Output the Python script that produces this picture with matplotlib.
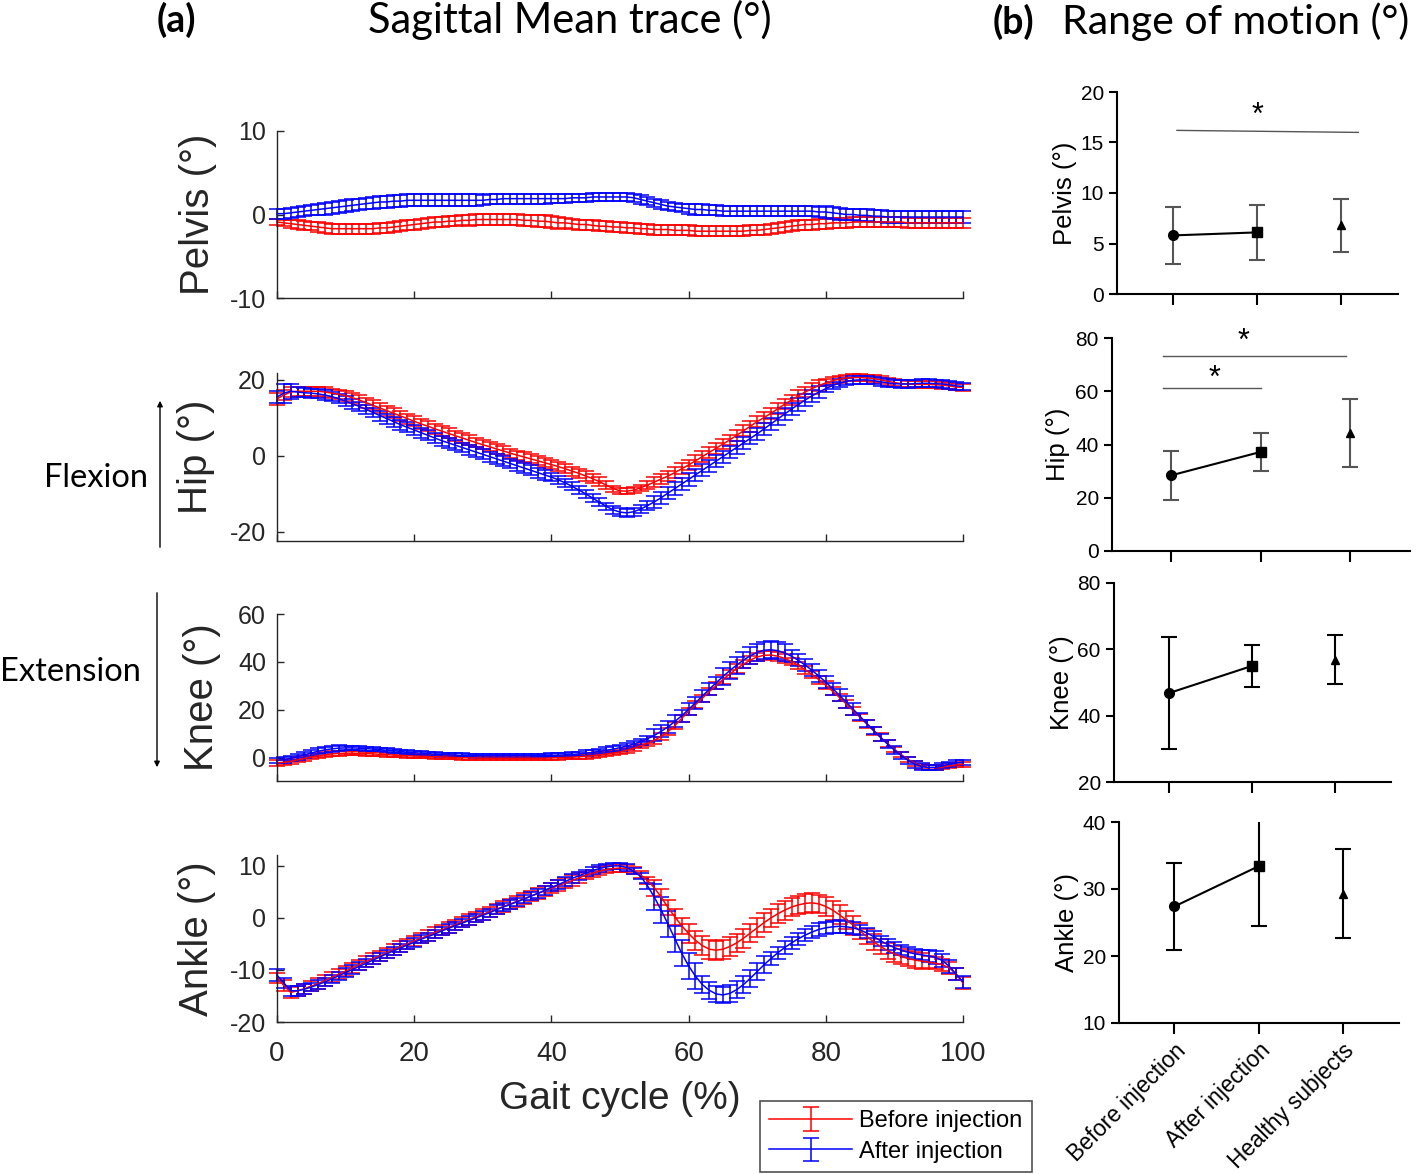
import matplotlib
matplotlib.use('Agg')
import matplotlib.pyplot as plt
from matplotlib.patches import FancyArrowPatch
import numpy as np

plt.rcParams['font.family'] = ['Liberation Sans', 'DejaVu Sans']
plt.rcParams['axes.unicode_minus'] = False

# gait cycle 0..100 %
gait = np.arange(101)

# pelvis, mean and sd (before = red, after = blue)
pelvis_before = [-0.9, -1.0, -1.1, -1.2, -1.3, -1.4, -1.5, -1.6, -1.7, -1.7,
                 -1.7, -1.7, -1.7, -1.7, -1.7, -1.6, -1.6, -1.5, -1.4, -1.3,
                 -1.2, -1.1, -1.0, -0.9, -0.9, -0.8, -0.8, -0.7, -0.7, -0.6,
                 -0.6, -0.6, -0.6, -0.6, -0.6, -0.6, -0.7, -0.7, -0.8, -0.8,
                 -0.9, -1.0, -1.0, -1.1, -1.2, -1.2, -1.3, -1.4, -1.4, -1.5,
                 -1.5, -1.6, -1.6, -1.7, -1.7, -1.8, -1.8, -1.8, -1.9, -1.9,
                 -1.9, -2.0, -2.0, -2.0, -2.0, -2.0, -2.0, -2.0, -2.0, -1.9,
                 -1.9, -1.8, -1.7, -1.6, -1.5, -1.4, -1.3, -1.2, -1.2, -1.1,
                 -1.1, -1.0, -1.0, -1.0, -0.9, -0.9, -0.9, -0.9, -0.9, -0.9,
                 -0.9, -0.9, -1.0, -1.0, -1.0, -1.0, -1.0, -1.0, -1.0, -1.0,
                 -1.0]
pelvis_before_sd = [0.4, 0.4, 0.5, 0.5, 0.5, 0.5, 0.6, 0.6, 0.6, 0.6,
                    0.6, 0.6, 0.6, 0.6, 0.6, 0.6, 0.6, 0.6, 0.6, 0.6,
                    0.6, 0.6, 0.6, 0.6, 0.6, 0.6, 0.6, 0.6, 0.7, 0.7,
                    0.7, 0.7, 0.7, 0.7, 0.7, 0.7, 0.7, 0.7, 0.7, 0.7,
                    0.7, 0.7, 0.6, 0.6, 0.6, 0.6, 0.6, 0.6, 0.6, 0.6,
                    0.6, 0.6, 0.6, 0.6, 0.6, 0.6, 0.6, 0.6, 0.6, 0.6,
                    0.6, 0.6, 0.6, 0.6, 0.6, 0.6, 0.6, 0.6, 0.6, 0.6,
                    0.6, 0.6, 0.6, 0.6, 0.6, 0.6, 0.6, 0.6, 0.6, 0.6,
                    0.6, 0.6, 0.6, 0.6, 0.6, 0.6, 0.6, 0.6, 0.6, 0.6,
                    0.6, 0.6, 0.6, 0.6, 0.6, 0.6, 0.6, 0.6, 0.6, 0.6,
                    0.6]
pelvis_after = [0.1, 0.1, 0.2, 0.3, 0.4, 0.5, 0.6, 0.7, 0.8, 0.9,
                1.0, 1.1, 1.2, 1.3, 1.4, 1.5, 1.5, 1.6, 1.6, 1.7,
                1.7, 1.7, 1.7, 1.7, 1.7, 1.7, 1.7, 1.7, 1.7, 1.7,
                1.7, 1.8, 1.8, 1.9, 1.9, 1.9, 1.9, 1.9, 1.9, 1.9,
                1.9, 1.9, 1.9, 2.0, 2.0, 2.0, 2.1, 2.1, 2.1, 2.1,
                2.1, 2.1, 2.0, 1.8, 1.6, 1.4, 1.2, 1.0, 0.9, 0.8,
                0.7, 0.6, 0.6, 0.5, 0.5, 0.4, 0.4, 0.4, 0.4, 0.4,
                0.4, 0.4, 0.4, 0.4, 0.4, 0.4, 0.4, 0.4, 0.4, 0.3,
                0.3, 0.2, 0.1, 0.0, 0.0, -0.1, -0.1, -0.2, -0.2, -0.3,
                -0.3, -0.3, -0.3, -0.3, -0.3, -0.3, -0.3, -0.3, -0.3, -0.3,
                -0.3]
pelvis_after_sd = [0.6, 0.6, 0.6, 0.6, 0.6, 0.6, 0.7, 0.7, 0.7, 0.7,
                   0.7, 0.7, 0.7, 0.7, 0.7, 0.7, 0.7, 0.7, 0.7, 0.7,
                   0.7, 0.7, 0.7, 0.7, 0.7, 0.7, 0.7, 0.7, 0.7, 0.7,
                   0.6, 0.6, 0.6, 0.6, 0.6, 0.6, 0.6, 0.6, 0.6, 0.6,
                   0.5, 0.5, 0.5, 0.5, 0.5, 0.5, 0.5, 0.5, 0.5, 0.5,
                   0.5, 0.5, 0.5, 0.5, 0.5, 0.5, 0.5, 0.5, 0.5, 0.5,
                   0.6, 0.6, 0.6, 0.6, 0.6, 0.6, 0.6, 0.6, 0.6, 0.6,
                   0.6, 0.6, 0.6, 0.6, 0.6, 0.6, 0.6, 0.6, 0.6, 0.6,
                   0.7, 0.7, 0.7, 0.7, 0.7, 0.7, 0.7, 0.7, 0.7, 0.7,
                   0.7, 0.7, 0.7, 0.7, 0.7, 0.7, 0.7, 0.7, 0.7, 0.7,
                   0.7]

# hip
hip_before = [15.0, 16.0, 16.8, 17.0, 17.0, 17.0, 17.0, 16.8, 16.5, 16.2,
              15.8, 15.3, 14.7, 14.0, 13.3, 12.6, 11.9, 11.2, 10.5, 9.8,
              9.1, 8.4, 7.8, 7.1, 6.5, 5.9, 5.3, 4.7, 4.1, 3.5,
              2.9, 2.4, 1.8, 1.3, 0.7, 0.2, -0.3, -0.8, -1.3, -1.8,
              -2.3, -2.8, -3.4, -4.0, -4.6, -5.3, -6.0, -6.8, -7.7, -8.6,
              -9.2, -9.3, -9.0, -8.4, -7.7, -6.9, -6.1, -5.3, -4.4, -3.4,
              -2.4, -1.3, -0.2, 0.9, 2.0, 3.1, 4.2, 5.4, 6.6, 7.8,
              9.0, 10.1, 11.2, 12.4, 13.6, 14.7, 15.8, 16.8, 17.7, 18.5,
              19.2, 19.8, 20.2, 20.5, 20.6, 20.6, 20.5, 20.3, 20.0, 19.6,
              19.3, 19.0, 18.9, 18.8, 18.8, 18.8, 18.7, 18.6, 18.4, 18.1,
              18.0]
hip_before_sd = [1.5, 1.2, 1.2, 1.2, 1.2, 1.2, 1.2, 1.2, 1.2, 1.2,
                 1.3, 1.3, 1.3, 1.3, 1.3, 1.3, 1.3, 1.3, 1.3, 1.3,
                 1.3, 1.3, 1.3, 1.3, 1.3, 1.3, 1.3, 1.3, 1.3, 1.3,
                 1.2, 1.2, 1.2, 1.2, 1.2, 1.2, 1.2, 1.2, 1.2, 1.2,
                 1.2, 1.2, 1.2, 1.2, 1.2, 1.2, 1.2, 1.2, 1.0, 0.8,
                 0.8, 0.8, 0.8, 0.8, 1.0, 1.4, 1.4, 1.4, 1.4, 1.4,
                 1.4, 1.4, 1.4, 1.4, 1.4, 1.4, 1.4, 1.4, 1.4, 1.4,
                 1.4, 1.4, 1.4, 1.4, 1.4, 1.4, 1.4, 1.4, 1.4, 1.4,
                 0.9, 0.9, 0.9, 0.9, 0.9, 0.9, 0.9, 0.9, 0.9, 0.9,
                 0.9, 0.9, 0.9, 0.9, 0.9, 0.9, 0.9, 0.9, 0.9, 0.9,
                 0.9]
hip_after = [15.5, 16.5, 17.0, 16.8, 16.6, 16.5, 16.3, 16.0, 15.6, 15.0,
             14.4, 13.7, 13.0, 12.2, 11.4, 10.6, 9.8, 9.0, 8.2, 7.5,
             6.8, 6.1, 5.4, 4.7, 4.0, 3.4, 2.8, 2.2, 1.6, 1.0,
             0.4, -0.2, -0.8, -1.4, -2.0, -2.6, -3.2, -3.8, -4.4, -5.0,
             -5.6, -6.3, -7.1, -8.0, -9.0, -10.0, -11.1, -12.2, -13.3, -14.2,
             -14.8, -15.0, -14.7, -14.0, -13.1, -12.1, -11.0, -9.8, -8.6, -7.4,
             -6.2, -5.0, -3.8, -2.6, -1.4, -0.2, 1.0, 2.2, 3.4, 4.6,
             5.8, 7.1, 8.4, 9.7, 11.0, 12.3, 13.5, 14.7, 15.8, 16.8,
             17.7, 18.5, 19.1, 19.6, 19.9, 20.0, 20.0, 19.8, 19.5, 19.2,
             19.0, 18.9, 18.9, 19.0, 19.1, 19.1, 19.0, 18.9, 18.7, 18.4,
             18.3]
hip_after_sd = [1.6, 2.5, 2.0, 1.2, 1.2, 1.2, 1.2, 1.2, 1.2, 1.2,
                1.3, 1.3, 1.3, 1.3, 1.3, 1.3, 1.3, 1.3, 1.3, 1.3,
                1.3, 1.3, 1.3, 1.3, 1.3, 1.3, 1.3, 1.3, 1.3, 1.3,
                1.3, 1.3, 1.3, 1.3, 1.3, 1.3, 1.3, 1.3, 1.3, 1.3,
                1.0, 1.0, 1.0, 1.0, 1.0, 1.0, 1.0, 1.0, 1.0, 1.0,
                1.0, 1.0, 1.0, 1.0, 1.2, 1.6, 1.6, 1.6, 1.6, 1.6,
                1.6, 1.6, 1.6, 1.6, 1.6, 1.6, 1.6, 1.6, 1.6, 1.6,
                1.6, 1.6, 1.6, 1.6, 1.6, 1.6, 1.6, 1.6, 1.6, 1.6,
                1.0, 1.0, 1.0, 1.0, 1.0, 1.0, 1.0, 1.0, 1.0, 1.0,
                1.0, 1.0, 1.0, 1.0, 1.0, 1.0, 1.0, 1.0, 1.0, 1.0,
                1.0]

# knee
knee_before = [-2.0, -1.8, -1.4, -0.8, -0.2, 0.4, 0.9, 1.3, 1.7, 1.9,
               2.0, 2.0, 1.9, 1.8, 1.7, 1.5, 1.4, 1.2, 1.0, 0.9,
               0.8, 0.7, 0.6, 0.5, 0.4, 0.3, 0.2, 0.1, 0.0, 0.0,
               -0.1, -0.1, -0.1, -0.1, -0.1, -0.1, -0.1, -0.1, -0.1, -0.1,
               0.0, 0.1, 0.2, 0.3, 0.5, 0.7, 1.0, 1.3, 1.7, 2.1,
               2.5, 3.2, 4.0, 5.0, 6.1, 7.4, 9.0, 11.0, 13.5, 16.5,
               19.5, 22.2, 24.9, 27.6, 30.2, 32.7, 35.0, 37.2, 39.1, 40.8,
               42.1, 42.8, 42.9, 42.4, 41.5, 40.2, 38.6, 36.8, 34.8, 32.6,
               30.3, 27.8, 25.2, 22.5, 19.7, 16.9, 14.1, 11.3, 8.6, 6.0,
               3.6, 1.4, -0.6, -2.2, -3.4, -4.0, -4.1, -3.8, -3.3, -2.9,
               -2.7]
knee_before_sd = [1.2, 1.0, 1.0, 1.0, 1.0, 1.0, 1.0, 1.0, 1.0, 1.0,
                  0.8, 0.8, 0.8, 0.8, 0.8, 0.8, 0.8, 0.8, 0.8, 0.8,
                  0.8, 0.8, 0.8, 0.8, 0.8, 0.8, 0.8, 0.8, 0.8, 0.8,
                  0.8, 0.8, 0.8, 0.8, 0.8, 0.8, 0.8, 0.8, 0.8, 0.8,
                  0.8, 0.8, 0.8, 0.8, 0.8, 1.0, 1.0, 1.0, 1.0, 1.0,
                  1.0, 1.0, 1.0, 1.0, 1.0, 1.5, 1.5, 1.5, 1.5, 1.5,
                  1.5, 1.5, 1.5, 1.5, 1.5, 1.8, 1.8, 1.8, 1.8, 1.8,
                  1.8, 1.8, 1.8, 1.8, 1.8, 1.6, 1.6, 1.6, 1.6, 1.6,
                  1.6, 1.6, 1.6, 1.6, 1.6, 1.6, 1.6, 1.6, 1.6, 1.6,
                  1.0, 1.0, 1.0, 1.0, 1.0, 1.0, 1.0, 1.0, 1.0, 1.0,
                  1.0]
knee_after = [-1.0, -0.7, -0.2, 0.5, 1.3, 2.1, 2.8, 3.4, 3.8, 4.1,
              4.2, 4.2, 4.1, 3.9, 3.7, 3.5, 3.2, 3.0, 2.7, 2.4,
              2.2, 2.0, 1.8, 1.6, 1.4, 1.3, 1.2, 1.1, 1.0, 0.9,
              0.9, 0.9, 0.9, 0.9, 0.9, 0.9, 0.9, 0.9, 1.0, 1.0,
              1.1, 1.2, 1.3, 1.5, 1.7, 2.0, 2.3, 2.7, 3.2, 3.7,
              4.3, 5.0, 5.8, 6.8, 8.0, 9.4, 11.1, 13.0, 15.2, 17.6,
              20.2, 23.0, 25.8, 28.6, 31.3, 33.9, 36.4, 38.7, 40.8, 42.6,
              44.0, 44.9, 45.1, 44.7, 43.8, 42.4, 40.7, 38.7, 36.5, 34.1,
              31.6, 28.9, 26.1, 23.2, 20.3, 17.3, 14.3, 11.4, 8.5, 5.8,
              3.3, 1.0, -1.0, -2.6, -3.6, -4.0, -3.9, -3.3, -2.6, -2.0,
              -1.8]
knee_after_sd = [1.0, 1.2, 1.2, 1.2, 1.2, 1.2, 1.2, 1.2, 1.2, 1.2,
                 0.8, 0.8, 0.8, 0.8, 0.8, 0.8, 0.8, 0.8, 0.8, 0.8,
                 0.8, 0.8, 0.8, 0.8, 0.8, 0.8, 0.8, 0.8, 0.8, 0.8,
                 0.8, 0.8, 0.8, 0.8, 0.8, 0.8, 0.8, 0.8, 0.8, 0.8,
                 0.8, 0.8, 0.8, 0.8, 0.8, 1.2, 1.2, 1.2, 1.2, 1.2,
                 1.2, 1.2, 1.2, 1.2, 1.2, 2.5, 2.5, 2.5, 2.5, 2.5,
                 2.5, 2.5, 2.5, 2.5, 2.5, 3.5, 3.5, 3.5, 3.5, 3.5,
                 3.5, 3.5, 3.5, 3.5, 3.5, 2.5, 2.5, 2.5, 2.5, 2.5,
                 2.5, 2.5, 2.5, 2.5, 2.5, 1.5, 1.5, 1.5, 1.5, 1.5,
                 1.5, 1.5, 1.5, 1.5, 1.5, 1.0, 1.0, 1.0, 1.0, 1.0,
                 1.0]

# ankle
ankle_before = [-11.5, -13.0, -14.3, -14.0, -13.6, -13.1, -12.6, -12.0, -11.4, -10.8,
                -10.2, -9.6, -9.0, -8.4, -7.8, -7.3, -6.7, -6.1, -5.5, -5.0,
                -4.4, -3.9, -3.4, -2.8, -2.3, -1.8, -1.3, -0.8, -0.3, 0.2,
                0.7, 1.2, 1.7, 2.2, 2.7, 3.2, 3.7, 4.2, 4.7, 5.2,
                5.7, 6.2, 6.7, 7.2, 7.7, 8.2, 8.6, 9.0, 9.3, 9.5,
                9.6, 9.5, 9.1, 8.3, 7.2, 5.8, 4.0, 2.0, 0.2, -1.5,
                -3.0, -4.3, -5.3, -6.0, -6.2, -6.0, -5.5, -4.8, -3.9, -2.9,
                -1.9, -0.9, 0.0, 0.8, 1.5, 2.1, 2.5, 2.8, 2.9, 2.7,
                2.2, 1.5, 0.6, -0.4, -1.4, -2.5, -3.6, -4.6, -5.5, -6.3,
                -6.9, -7.4, -7.8, -8.1, -8.3, -8.5, -8.7, -9.0, -9.6, -10.8,
                -12.5]
ankle_before_sd = [1.0, 1.0, 1.0, 1.0, 1.0, 1.0, 1.0, 1.0, 1.0, 1.0,
                   1.0, 1.0, 1.0, 1.0, 1.0, 1.0, 1.0, 1.0, 1.0, 1.0,
                   1.0, 1.0, 1.0, 1.0, 1.0, 1.0, 1.0, 1.0, 1.0, 1.0,
                   1.0, 1.0, 1.0, 1.0, 1.0, 1.0, 1.0, 1.0, 1.0, 1.0,
                   1.0, 1.0, 1.0, 1.0, 1.0, 0.7, 0.7, 0.7, 0.7, 0.7,
                   0.7, 0.7, 0.7, 0.7, 0.7, 1.5, 1.5, 1.5, 1.5, 1.5,
                   1.8, 1.8, 1.8, 1.8, 1.8, 1.8, 1.8, 1.8, 1.8, 1.8,
                   1.8, 1.8, 1.8, 1.8, 1.8, 1.8, 1.8, 1.8, 1.8, 1.8,
                   1.8, 1.8, 1.8, 1.8, 1.8, 1.5, 1.5, 1.5, 1.5, 1.5,
                   1.5, 1.5, 1.5, 1.5, 1.5, 1.2, 1.2, 1.2, 1.2, 1.2,
                   1.2]
ankle_after = [-11.0, -12.5, -14.0, -14.0, -13.7, -13.3, -12.8, -12.3, -11.7, -11.1,
               -10.5, -9.9, -9.3, -8.7, -8.1, -7.5, -6.9, -6.3, -5.8, -5.2,
               -4.7, -4.1, -3.6, -3.1, -2.5, -2.0, -1.5, -1.0, -0.5, 0.0,
               0.5, 1.0, 1.6, 2.1, 2.6, 3.1, 3.6, 4.2, 4.7, 5.3,
               5.9, 6.4, 7.0, 7.6, 8.1, 8.6, 9.1, 9.5, 9.8, 10.0,
               10.0, 9.7, 9.0, 8.0, 6.2, 4.0, 1.5, -1.2, -4.0, -6.8,
               -9.2, -11.2, -12.8, -13.9, -14.6, -14.8, -14.5, -13.8, -12.8, -11.6,
               -10.3, -9.0, -7.8, -6.7, -5.7, -4.8, -4.0, -3.3, -2.7, -2.2,
               -1.9, -1.7, -1.6, -1.7, -1.9, -2.3, -2.9, -3.6, -4.4, -5.1,
               -5.7, -6.2, -6.6, -6.9, -7.1, -7.3, -7.6, -8.2, -9.3, -10.8,
               -12.3]
ankle_after_sd = [1.2, 1.0, 1.0, 1.0, 1.0, 0.8, 0.8, 0.8, 0.8, 0.8,
                  0.8, 0.8, 0.8, 0.8, 0.8, 0.8, 0.8, 0.8, 0.8, 0.8,
                  0.8, 0.8, 0.8, 0.8, 0.8, 0.8, 0.8, 0.8, 0.8, 0.8,
                  0.8, 0.8, 0.8, 0.8, 0.8, 0.8, 0.8, 0.8, 0.8, 0.8,
                  0.8, 0.8, 0.8, 0.8, 0.8, 0.6, 0.6, 0.6, 0.6, 0.6,
                  0.6, 0.6, 0.6, 0.6, 0.6, 2.5, 2.5, 2.5, 2.5, 2.5,
                  2.5, 2.5, 1.6, 1.6, 1.6, 1.6, 1.6, 1.6, 1.6, 1.6,
                  1.6, 1.6, 1.2, 1.2, 1.2, 1.2, 1.2, 1.2, 1.2, 1.2,
                  1.2, 1.2, 1.2, 1.2, 1.2, 1.0, 1.0, 1.0, 1.0, 1.0,
                  1.0, 1.0, 1.0, 1.0, 1.0, 1.2, 1.2, 1.2, 1.2, 1.2,
                  1.2]

# range of motion (mean, sd) per group
groups = ['Before injection', 'After injection', 'Healthy subjects']
pelvis_rom = [5.8, 6.1, 6.8]
pelvis_rom_sd = [2.85, 2.7, 2.65]
hip_rom = [28.4, 37.2, 44.3]
hip_rom_sd = [9.3, 7.0, 12.7]
knee_rom = [46.8, 55.0, 56.9]
knee_rom_sd = [17.0, 6.4, 7.3]
ankle_rom = [27.4, 33.4, 29.3]
ankle_rom_sd = [6.5, 8.9, 6.6]

W, H = 1418, 1174
fig = plt.figure(figsize=(W / 100, H / 100), dpi=100)


def px_rect(left, top, right, bottom):
    return [left / W, 1 - bottom / H, (right - left) / W, (bottom - top) / H]


def px(x, y):
    return (x / W, 1 - y / H)


grey = '#262626'


def trace_panel(rect, before, before_sd, after, after_sd, ylim, yticks, label, lab_x, last=False):
    ax = fig.add_axes(rect)
    ax.errorbar(gait, before, yerr=before_sd, color='red', lw=1.1, elinewidth=1.1,
                capsize=5.5, capthick=1.1, clip_on=False, label='Before injection')
    ax.errorbar(gait, after, yerr=after_sd, color='blue', lw=1.1, elinewidth=1.1,
                capsize=5.5, capthick=1.1, clip_on=False, label='After injection')
    ax.set_xlim(0, 100)
    ax.set_ylim(*ylim)
    ax.set_yticks(yticks)
    ax.set_xticks([0, 20, 40, 60, 80, 100])
    for s in ['top', 'right']:
        ax.spines[s].set_visible(False)
    for s in ['left', 'bottom']:
        ax.spines[s].set_color(grey)
        ax.spines[s].set_linewidth(1)
    ax.tick_params(direction='in', length=5, width=1, colors=grey, labelsize=18)
    ax.tick_params(axis='y', pad=8)
    ax.tick_params(axis='x', labelsize=20, pad=14)
    if not last:
        ax.set_xticklabels([])
    pos = ax.get_position()
    fig.text(lab_x / W, pos.y0 + pos.height / 2, label, rotation=90, ha='center',
             va='center', fontsize=29, color=grey)
    return ax


ax1 = trace_panel(px_rect(277, 131, 963, 298), pelvis_before, pelvis_before_sd,
                  pelvis_after, pelvis_after_sd, (-10, 10), [-10, 0, 10], 'Pelvis (°)', 198)
ax2 = trace_panel(px_rect(277, 373, 963, 541), hip_before, hip_before_sd,
                  hip_after, hip_after_sd, (-22.4, 21.8), [-20, 0, 20], 'Hip (°)', 196)
ax3 = trace_panel(px_rect(277, 614, 963, 781), knee_before, knee_before_sd,
                  knee_after, knee_after_sd, (-9.6, 60), [0, 20, 40, 60], 'Knee (°)', 202)
ax4 = trace_panel(px_rect(277, 855, 963, 1022), ankle_before, ankle_before_sd,
                  ankle_after, ankle_after_sd, (-20, 12.1), [-20, -10, 0, 10], 'Ankle (°)', 197,
                  last=True)
ax4.set_xlabel('Gait cycle (%)', fontsize=28, color=grey, labelpad=10)

handles, labels = ax4.get_legend_handles_labels()
leg = fig.legend(handles, labels, loc='upper left', bbox_to_anchor=px(760, 1101),
                 fontsize=17, frameon=True, fancybox=False, edgecolor=grey,
                 handlelength=3.5, borderpad=0.4, labelspacing=0.35, handletextpad=0.3,
                 borderaxespad=0)
leg.get_frame().set_linewidth(1.2)


def rom_panel(rect, vals, sds, ylim, yticks, label, lab_x, ecolor, last=False):
    ax = fig.add_axes(rect)
    xcat = [0, 1, 2]
    ax.plot(xcat[:2], vals[:2], color='black', lw=1.5, zorder=3)
    for i, (m, ms) in enumerate(zip(['o', 's', '^'], [7, 7, 6])):
        ax.errorbar(xcat[i], vals[i], yerr=sds[i], fmt=m, color='black', ecolor=ecolor,
                    elinewidth=1.5, capsize=5.5, capthick=1.5, markersize=ms, zorder=4)
    ax.set_xlim(-0.66, 2.67)
    ax.set_ylim(*ylim)
    ax.set_yticks(yticks)
    ax.set_xticks(xcat)
    for s in ['top', 'right']:
        ax.spines[s].set_visible(False)
    for s in ['left', 'bottom']:
        ax.spines[s].set_linewidth(1.5)
    ax.tick_params(direction='out', length=6, width=1.5, labelsize=15)
    ax.tick_params(axis='x', length=8)
    if last:
        ax.set_xticklabels(groups, rotation=45, ha='right', rotation_mode='anchor',
                           fontsize=16.3)
    else:
        ax.set_xticklabels([])
    pos = ax.get_position()
    fig.text(lab_x / W, pos.y0 + pos.height / 2, label, rotation=90, ha='center',
             va='center', fontsize=18.5)
    return ax


bx1 = rom_panel(px_rect(1117, 92, 1398, 294), pelvis_rom, pelvis_rom_sd, (0, 20),
                [0, 5, 10, 15, 20], 'Pelvis (°)', 1065, '#555555')
bx1.plot([0.05, 2.2], [16.2, 16.0], color='#555555', lw=1, clip_on=False)
bx1.text(1, 17.6, '*', ha='center', va='center', fontsize=22)

bx2 = rom_panel(px_rect(1112, 338, 1410, 551), hip_rom, hip_rom_sd, (0, 80),
                [0, 20, 40, 60, 80], 'Hip (°)', 1058, '#555555')
bx2.plot([-0.09, 1.96], [73.1, 73.1], color='#555555', lw=1, clip_on=False)
bx2.plot([-0.09, 1.01], [61.1, 61.1], color='#555555', lw=1, clip_on=False)
bx2.text(0.81, 78.5, '*', ha='center', va='center', fontsize=22, clip_on=False)
bx2.text(0.48, 64.5, '*', ha='center', va='center', fontsize=22)

bx3 = rom_panel(px_rect(1114, 583, 1391, 782), knee_rom, knee_rom_sd, (20, 80),
                [20, 40, 60, 80], 'Knee (°)', 1062, 'black')
bx4 = rom_panel(px_rect(1119, 822, 1399, 1023), ankle_rom, ankle_rom_sd, (10, 40),
                [10, 20, 30, 40], 'Ankle (°)', 1067, 'black', last=True)

# headings and side annotations
lato = ['Lato', 'DejaVu Sans']
fig.text(*px(176, 20), '(a)', family=lato, fontweight='bold',
         fontsize=27, ha='center', va='center')
fig.text(*px(570, 20), 'Sagittal Mean trace (°)', family=lato,
         fontsize=30, ha='center', va='center')
fig.text(*px(1013, 22), '(b)', family=lato, fontweight='bold',
         fontsize=27, ha='center', va='center')
fig.text(*px(1062, 22), 'Range of motion (°)', family=lato,
         fontsize=29.5, ha='left', va='center')
fig.text(*px(96, 478), 'Flexion', family=lato, fontsize=23.5,
         ha='center', va='center')
fig.text(*px(70, 672), 'Extension', family=lato, fontsize=23.5,
         ha='center', va='center')
fig.add_artist(FancyArrowPatch(px(160, 550), px(160, 398), transform=fig.transFigure,
                               arrowstyle='-|>', mutation_scale=8, lw=1, color='black'))
fig.add_artist(FancyArrowPatch(px(157, 590), px(157, 770), transform=fig.transFigure,
                               arrowstyle='-|>', mutation_scale=8, lw=1, color='black'))

fig.savefig('out.png', dpi=100)
